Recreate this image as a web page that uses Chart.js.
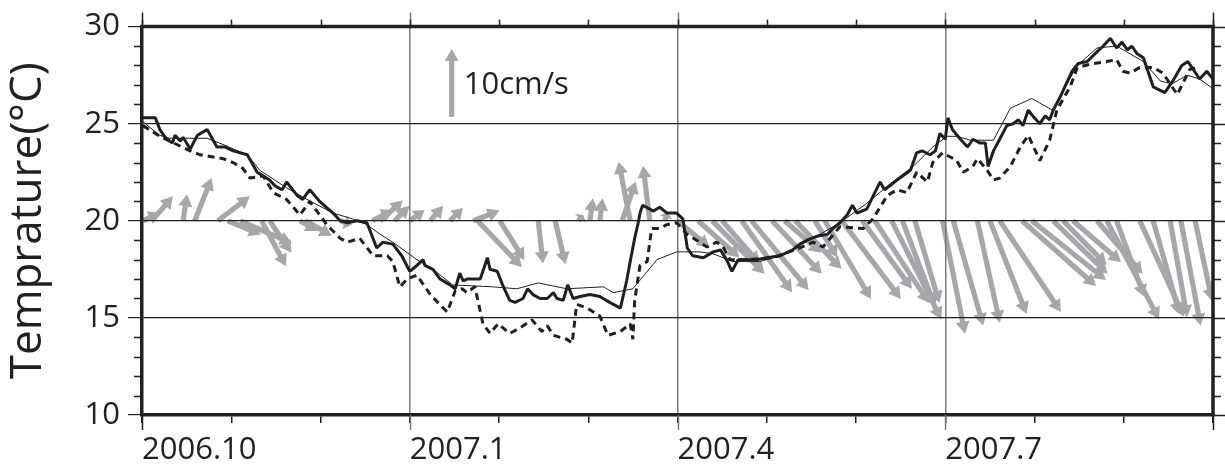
<!DOCTYPE html>
<html>
<head>
<meta charset="utf-8">
<script src="https://cdn.jsdelivr.net/npm/chart.js"></script>
<style>
  html, body { margin: 0; padding: 0; background: #fff; }
</style>
</head>
<body>
<canvas id="chart1" width="1225" height="465"></canvas>
<script>
// x values are months counted from 2006.10 (0) to 2007.10 (12)
const monthLabels = ['2006.10', '2007.1', '2007.4', '2007.7'];

// thick solid line
const thickMonth = [
  0.01,0.15,0.20,0.26,0.34,0.37,0.43,0.46,0.54,0.62,
  0.73,0.84,0.93,1.02,1.18,1.29,1.36,1.43,1.49,1.57,
  1.62,1.74,1.80,1.88,1.99,2.14,2.22,2.30,2.41,2.52,
  2.63,2.70,2.81,2.91,3.00,3.08,3.15,3.17,3.26,3.34,
  3.45,3.51,3.56,3.60,3.64,3.79,3.87,3.90,3.98,4.04,
  4.12,4.18,4.27,4.32,4.38,4.46,4.54,4.61,4.65,4.72,
  4.77,4.83,4.91,5.02,5.13,5.24,5.36,5.43,5.47,5.52,
  5.56,5.58,5.61,5.73,5.80,5.88,5.99,6.06,6.11,6.17,
  6.29,6.40,6.48,6.55,6.61,6.68,6.78,6.89,7.00,7.15,
  7.29,7.37,7.45,7.56,7.68,7.74,7.82,7.90,7.96,8.01,
  8.12,8.27,8.32,8.46,8.61,8.68,8.74,8.83,8.89,8.94,
  9.00,9.03,9.08,9.17,9.25,9.31,9.39,9.45,9.48,9.54,
  9.61,9.69,9.76,9.82,9.87,9.93,9.98,10.06,10.12,10.17,
  10.21,10.29,10.36,10.42,10.49,10.59,10.70,10.77,10.85,10.92,
  10.98,11.04,11.09,11.15,11.22,11.33,11.46,11.55,11.65,11.72,
  11.85,11.93,12.00
];
const thickTemp = [
  25.3,25.3,24.7,24.3,24.0,24.4,24.1,24.3,23.7,24.4,
  24.7,23.8,23.8,23.6,23.4,22.5,22.3,22.1,21.8,21.6,
  22.0,21.3,21.1,21.6,21.0,20.4,20.0,19.9,20.0,19.9,
  18.6,18.9,18.8,18.2,17.4,17.7,18.0,17.7,17.5,17.0,
  16.7,16.5,17.3,16.9,17.0,17.0,18.1,17.5,17.4,16.7,
  15.9,15.8,16.0,16.5,16.2,16.0,16.0,16.3,16.0,15.9,
  16.7,16.0,16.1,16.2,16.1,15.8,15.5,16.9,17.9,19.1,
  19.9,20.4,20.8,20.5,20.7,20.4,20.4,20.1,18.6,18.2,
  18.1,18.4,18.5,18.0,17.4,18.0,18.0,18.0,18.1,18.2,
  18.5,18.8,19.0,19.2,19.3,19.6,19.9,20.3,20.8,20.4,
  20.6,22.0,21.6,22.1,22.6,23.5,23.6,23.4,23.6,24.5,
  24.2,25.3,24.7,24.2,23.8,24.2,24.0,24.0,22.8,23.6,
  24.2,24.9,25.0,25.2,24.9,25.7,25.4,25.0,25.4,25.2,
  25.7,26.4,27.1,27.7,28.1,28.2,28.7,29.0,29.4,28.9,
  29.2,28.8,29.0,28.6,28.4,26.9,26.6,27.2,28.0,28.2,
  27.3,27.7,27.3
];

// thin solid line
const thinMonth = [
  0.01,0.20,0.31,0.73,0.87,1.18,1.32,1.62,1.85,2.14,
  2.36,2.52,2.67,2.81,3.08,3.26,3.48,3.93,4.20,4.44,
  4.76,5.17,5.28,5.50,5.77,5.99,6.25,6.40,6.62,6.92,
  7.15,7.52,7.82,8.12,8.41,8.64,8.86,9.02,9.13,9.28,
  9.54,9.73,9.97,10.20,10.48,10.70,10.92,11.22,11.41,11.54,
  11.71,11.85,12.00
];
const thinTemp = [
  25.1,24.4,24.25,24.25,24.0,23.4,22.6,21.7,21.1,20.4,
  20.1,19.8,19.3,18.9,18.0,17.5,16.7,16.6,16.5,16.8,
  16.5,16.6,16.3,16.5,18.0,18.4,18.4,18.3,17.9,17.9,
  18.2,19.1,19.9,20.9,22.0,22.8,23.8,24.35,24.35,24.15,
  24.15,25.8,26.3,25.7,28.0,28.9,29.0,28.2,27.2,27.05,
  27.5,27.3,26.8
];

// dashed line
const dashMonth = [
  0.01,0.20,0.54,0.65,0.91,1.02,1.13,1.21,1.36,1.47,
  1.62,1.77,1.88,2.07,2.22,2.30,2.44,2.59,2.75,2.81,
  2.89,2.97,3.08,3.23,3.42,3.51,3.59,3.64,3.73,3.82,
  3.90,3.99,4.12,4.24,4.37,4.48,4.54,4.61,4.76,4.82,
  4.87,4.99,5.13,5.22,5.36,5.47,5.50,5.52,5.58,5.66,
  5.71,5.80,5.88,5.99,6.11,6.33,6.44,6.51,6.59,6.78,
  7.07,7.34,7.52,7.63,7.82,8.08,8.19,8.35,8.46,8.57,
  8.68,8.80,8.86,8.97,9.13,9.20,9.31,9.36,9.47,9.54,
  9.61,9.73,9.84,9.93,10.06,10.17,10.25,10.40,10.48,10.66,
  10.81,10.92,10.99,11.07,11.18,11.33,11.44,11.60,11.74,11.85
];
const dashTemp = [
  24.9,24.35,23.6,23.4,23.2,23.0,22.7,22.2,22.3,21.45,
  21.1,20.3,21.0,19.8,19.1,18.9,19.1,18.2,18.2,17.9,
  16.6,17.0,17.2,16.2,15.3,16.4,16.5,16.3,16.6,14.7,
  14.2,14.7,14.2,14.5,14.9,14.3,14.6,14.1,13.9,13.7,
  15.7,15.5,15.1,14.1,14.3,14.7,13.9,15.9,17.7,17.9,
  19.6,19.6,19.8,19.9,19.3,18.65,18.9,18.65,18.0,18.0,
  18.1,18.55,18.9,18.65,19.7,19.6,20.1,21.3,21.6,21.45,
  22.5,22.0,23.0,23.5,23.1,22.5,22.8,23.2,22.6,22.1,
  22.2,22.8,23.8,24.4,23.1,24.15,25.7,26.9,27.9,28.1,
  28.2,28.3,27.7,27.6,27.9,27.9,27.6,26.5,27.8,27.9
];

// current vectors (cm/s), drawn from the 20 degC line
const arrowMonth = [
  0.01,0.11,0.46,0.59,0.85,0.96,1.10,1.34,1.43,1.77,
  1.83,2.22,2.58,2.67,2.83,3.00,3.23,3.45,3.71,3.76,
  4.01,4.44,4.63,4.89,5.02,5.13,5.38,5.47,5.69,5.86,
  6.00,6.23,6.39,6.50,6.72,6.83,7.06,7.20,7.32,7.54,
  7.65,7.84,8.07,8.21,8.40,8.52,8.66,8.97,9.09,9.36,
  9.50,9.61,9.86,9.97,10.21,10.32,10.43,10.70,10.81,10.92,
  11.18,11.33,11.52,11.64,11.80
];
const arrowU = [
  2.5,3.1,0.6,2.5,4.7,4.9,7.6,3.6,3.2,2.6,
  3.9,1.7,3.1,3.3,2.2,2.2,1.9,1.9,3.9,6.5,
  3.6,0.7,1.5,0.7,0.4,0.4,2.0,-1.7,-1.0,0.4,
  4.7,6.1,7.7,5.5,7.4,8.4,7.3,5.4,6.8,3.3,
  6.8,8.7,7.3,8.0,7.3,4.8,3.6,3.3,4.4,3.3,
  5.4,9.0,10.9,10.9,8.0,6.4,7.1,6.7,7.7,4.1,
  6.5,3.9,2.5,2.9,2.5
];
const arrowV = [
  1.2,3.6,3.9,6.3,3.6,-2.0,-3.3,-6.7,-4.7,-1.5,
  -2.2,-0.6,1.6,3.0,2.2,1.6,2.2,1.9,1.5,-6.8,
  -5.8,-6.3,-6.4,0.9,3.3,3.3,5.8,8.7,8.1,1.2,
  -3.9,-5.4,-7.8,-6.3,-10.5,-10.2,-7.8,-4.7,-7.1,-5.4,
  -11.5,-11.5,-10.0,-12.1,-14.5,-12.6,-12.1,-16.6,-15.4,-15.0,
  -13.7,-13.4,-9.6,-8.7,-7.8,-6.5,-6.1,-7.8,-14.5,-11.2,
  -14.1,-13.8,-14.2,-15.4,-11.8
];
const arrowBase = 20;      // degC line the sticks start from
const cmPerDeg = 0.35;     // 1 cm/s drawn as 0.35 degC of height
const refArrow = { month: 3.47, temp: 25.35, v: 10, label: '10cm/s' };

const ink = '#231f20';
const arrowGray = '#a5a7aa';
const fontFamily = '"Open Sans", "Noto Sans", sans-serif';

const toPoints = (xs, ys) => xs.map((x, i) => ({ x: x, y: ys[i] }));

function drawArrow(ctx, x0, y0, x1, y1) {
  const len = Math.hypot(x1 - x0, y1 - y0);
  if (len < 1) return;
  const ang = Math.atan2(y1 - y0, x1 - x0);
  const head = Math.min(12, len * 0.6);
  ctx.save();
  ctx.translate(x0, y0);
  ctx.rotate(ang);
  ctx.fillRect(0, -2.6, len - head + 1, 5.2);
  ctx.beginPath();
  ctx.moveTo(len, 0);
  ctx.lineTo(len - head, -7);
  ctx.lineTo(len - head, 7);
  ctx.closePath();
  ctx.fill();
  ctx.restore();
}

// stick arrows under the grid, plus frame and extra ticks on top
const stickPlugin = {
  id: 'sticks',
  beforeDraw(chart) {
    const { ctx, chartArea: a } = chart;
    const xs = chart.scales.x, ys = chart.scales.y;
    const k = ys.getPixelForValue(arrowBase) - ys.getPixelForValue(arrowBase + cmPerDeg);
    ctx.save();
    ctx.beginPath();
    ctx.rect(a.left, a.top, a.right - a.left, a.bottom - a.top);
    ctx.clip();
    ctx.fillStyle = arrowGray;
    const y0 = ys.getPixelForValue(arrowBase);
    arrowMonth.forEach((m, i) => {
      const x0 = xs.getPixelForValue(m);
      drawArrow(ctx, x0, y0, x0 + arrowU[i] * k, y0 - arrowV[i] * k);
    });
    // scale arrow
    const rx = xs.getPixelForValue(refArrow.month);
    const ry = ys.getPixelForValue(refArrow.temp);
    drawArrow(ctx, rx, ry, rx, ry - refArrow.v * k);
    ctx.restore();
    ctx.save();
    ctx.fillStyle = ink;
    ctx.font = '31px ' + fontFamily;
    ctx.textBaseline = 'middle';
    ctx.fillText(refArrow.label, rx + 12, ry - refArrow.v * k * 0.46);
    ctx.restore();
  },
  afterDraw(chart) {
    const { ctx, chartArea: a } = chart;
    const xs = chart.scales.x, ys = chart.scales.y;
    ctx.save();
    // month ticks on top, long marks every 3 months
    for (let m = 0; m <= 12; m++) {
      const px = Math.round(xs.getPixelForValue(m)) + 0.5;
      const major = m % 3 === 0;
      ctx.lineWidth = 1.5;
      if (major) {
        ctx.strokeStyle = (m === 0 || m === 12) ? ink : '#7b7b7b';
        ctx.beginPath();
        ctx.moveTo(px, a.top - 14); ctx.lineTo(px, a.top);
        ctx.moveTo(px, a.bottom); ctx.lineTo(px, a.bottom + 15);
        ctx.stroke();
      }
      ctx.strokeStyle = ink;
      ctx.beginPath();
      ctx.moveTo(px, a.top - 7); ctx.lineTo(px, a.top);
      ctx.stroke();
    }
    // degree ticks left (minor) and right (all)
    for (let t = 10; t <= 30; t++) {
      const py = Math.round(ys.getPixelForValue(t)) + 0.5;
      const major = t % 5 === 0;
      ctx.strokeStyle = ink;
      ctx.lineWidth = 1.5;
      ctx.beginPath();
      if (!major) { ctx.moveTo(a.left - 8, py); ctx.lineTo(a.left, py); }
      ctx.moveTo(a.right, py); ctx.lineTo(a.right + (major ? 12 : 8), py);
      ctx.stroke();
    }
    // top and right frame
    ctx.strokeStyle = ink;
    ctx.lineWidth = 3.5;
    ctx.beginPath();
    ctx.moveTo(a.left - 1.5, a.top);
    ctx.lineTo(a.right, a.top);
    ctx.lineTo(a.right, a.bottom + 1.5);
    ctx.stroke();
    ctx.restore();
  }
};

const data = {
  datasets: [
    {
      label: 'thin',
      data: toPoints(thinMonth, thinTemp),
      borderColor: ink,
      borderWidth: 1,
      pointRadius: 0,
      tension: 0
    },
    {
      label: 'dashed',
      data: toPoints(dashMonth, dashTemp),
      borderColor: ink,
      borderWidth: 3,
      borderDash: [7, 5],
      borderJoinStyle: 'bevel',
      pointRadius: 0,
      tension: 0
    },
    {
      label: 'thick',
      data: toPoints(thickMonth, thickTemp),
      borderColor: ink,
      borderWidth: 3,
      borderJoinStyle: 'bevel',
      pointRadius: 0,
      tension: 0
    }
  ]
};

const config = {
  type: 'line',
  data: data,
  options: {
    responsive: false,
    animation: false,
    layout: { padding: { top: 22, right: 12, left: 0, bottom: 0 } },
    plugins: {
      legend: { display: false },
      tooltip: { enabled: false }
    },
    scales: {
      x: {
        type: 'linear',
        min: 0,
        max: 12,
        afterFit: (s) => { s.height = 50; },
        border: { display: true, color: ink, width: 3.5 },
        grid: {
          drawOnChartArea: true,
          color: (c) => {
            const v = c.tick ? c.tick.value : 0;
            return (v % 3 === 0 && v > 0 && v < 12) ? '#7b7b7b' : 'rgba(0,0,0,0)';
          },
          lineWidth: 1.5,
          tickColor: ink,
          tickLength: 8
        },
        ticks: {
          stepSize: 1,
          autoSkip: false,
          maxRotation: 0,
          align: 'start',
          padding: 9,
          color: ink,
          font: { family: fontFamily, size: 31 },
          callback: (v) => (v % 3 === 0 && v < 12) ? monthLabels[v / 3] : ''
        }
      },
      y: {
        min: 10,
        max: 30,
        afterFit: (s) => { s.width = 142; },
        border: { display: true, color: ink, width: 3.5 },
        grid: {
          color: ink,
          lineWidth: 1.2,
          tickColor: ink,
          tickLength: 14
        },
        ticks: {
          stepSize: 5,
          padding: 8,
          color: ink,
          font: { family: fontFamily, size: 31 }
        },
        title: {
          display: true,
          text: 'Temprature(°C)',
          color: ink,
          font: { family: fontFamily, size: 44 },
          padding: { top: 2, bottom: 0 }
        }
      }
    }
  },
  plugins: [stickPlugin]
};

const myChart = new Chart(document.getElementById('chart1'), config);
</script>
</body>
</html>
